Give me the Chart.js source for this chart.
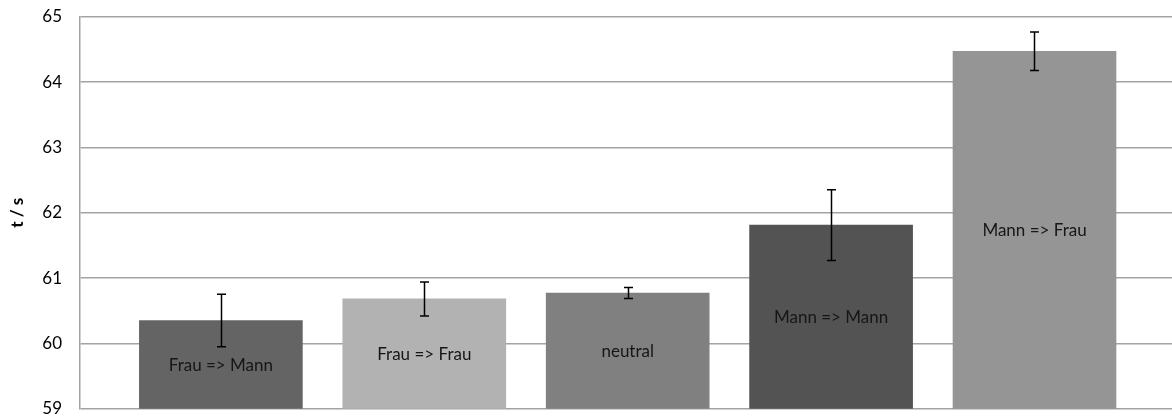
<!DOCTYPE html>
<html>
<head>
<meta charset="utf-8">
<script src="https://cdn.jsdelivr.net/npm/chart.js@4/dist/chart.umd.min.js"></script>
<style>
  html, body { margin: 0; padding: 0; background: #fff; }
  #chart { display: block; }
</style>
</head>
<body>
<canvas id="chart" width="1172" height="416"></canvas>
<script>
const categories = ["Frau => Mann", "Frau => Frau", "neutral", "Mann => Mann", "Mann => Frau"];
const means = [60.35, 60.68, 60.77, 61.81, 64.47];
const errors = [0.40, 0.26, 0.085, 0.54, 0.295];
const yMin = 59;
const yMax = 65;
const yTitle = "t / s";

const barColors = ["#646464", "#b2b2b2", "#808080", "#535353", "#959595"];
const fontFamily = "Lato, 'Noto Sans', sans-serif";

// Beschriftung mitten im sichtbaren Balken
const barLabels = {
  id: "barLabels",
  afterDatasetsDraw(chart) {
    const ctx = chart.ctx;
    const meta = chart.getDatasetMeta(0);
    const bottom = chart.chartArea.bottom;
    ctx.save();
    ctx.font = "17px " + fontFamily;
    ctx.fillStyle = "#161616";
    ctx.textAlign = "center";
    ctx.textBaseline = "middle";
    meta.data.forEach((bar, i) => {
      const base = Math.min(bar.base, bottom);
      ctx.fillText(categories[i], bar.x, (bar.y + base) / 2 + 1);
    });
    ctx.restore();
  }
};

// Fehlerbalken
const errorBars = {
  id: "errorBars",
  afterDatasetsDraw(chart) {
    const ctx = chart.ctx;
    const y = chart.scales.y;
    const meta = chart.getDatasetMeta(0);
    ctx.save();
    ctx.strokeStyle = "#000";
    ctx.lineWidth = 1.5;
    meta.data.forEach((bar, i) => {
      const top = y.getPixelForValue(means[i] + errors[i]);
      const bottom = y.getPixelForValue(means[i] - errors[i]);
      const x = Math.round(bar.x) + 0.5;
      ctx.beginPath();
      ctx.moveTo(x, top);
      ctx.lineTo(x, bottom);
      ctx.moveTo(x - 4.5, top);
      ctx.lineTo(x + 4.5, top);
      ctx.moveTo(x - 4.5, bottom);
      ctx.lineTo(x + 4.5, bottom);
      ctx.stroke();
    });
    ctx.restore();
  }
};

new Chart(document.getElementById("chart"), {
  type: "bar",
  data: {
    datasets: [{
      label: yTitle,
      data: means.map((v, i) => ({ x: i, y: v })),
      backgroundColor: barColors,
      borderWidth: 0,
      barThickness: 163
    }]
  },
  options: {
    responsive: false,
    animation: false,
    layout: { padding: { top: 16.7, bottom: 7.3, left: 0, right: 0 } },
    plugins: {
      legend: { display: false },
      tooltip: { enabled: false }
    },
    scales: {
      x: {
        type: "linear",
        display: false,
        offset: false,
        min: -0.6926,
        max: 4.676
      },
      y: {
        min: yMin,
        max: yMax,
        afterFit(scale) { scale.width = 80; },
        ticks: {
          stepSize: 1,
          padding: 0,
          color: "#000",
          font: { family: fontFamily, size: 17, lineHeight: 0.8 }
        },
        grid: {
          color: "#a3a3a3",
          lineWidth: 1.5,
          drawTicks: true,
          tickLength: 18,
          tickColor: "rgba(0,0,0,0)"
        },
        border: { display: true, color: "#a3a3a3", width: 1.5 },
        title: {
          display: true,
          text: yTitle,
          color: "#000",
          font: { family: fontFamily, size: 17, weight: "bold" },
          padding: { top: 7, bottom: 0 }
        }
      }
    }
  },
  plugins: [barLabels, errorBars]
});
</script>
</body>
</html>
